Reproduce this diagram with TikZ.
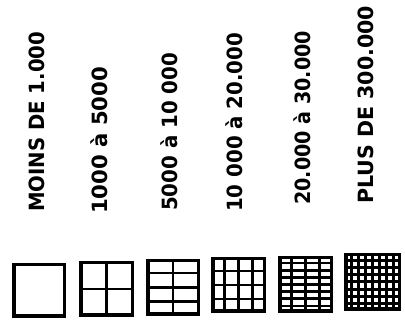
\documentclass[tikz,border=0pt]{standalone}
\usepackage{fontspec}
\setmainfont{DejaVu Sans}
\usepackage{graphicx}
\usetikzlibrary{calc}
\tikzset{
  lbl/.style={rotate=90, anchor=base west, inner sep=0pt, font=\fontsize{21}{25}\selectfont\bfseries},
  legbox/.style={draw=black, line width=3.5pt, inner sep=0pt, fill=white},
  gridln/.style={draw=black, line width=#1},
}
\newcommand\gridbox[4]{%
  \pgfmathtruncatemacro\nc{#2-1}%
  \pgfmathtruncatemacro\nr{#3-1}%
  \foreach \k in {1,...,\nc}{%
    \pgfmathsetmacro\f{\k/#2}%
    \draw[gridln=#4] ($(#1.south west)!\f!(#1.south east)$) -- ($(#1.north west)!\f!(#1.north east)$);
  }%
  \foreach \k in {1,...,\nr}{%
    \pgfmathsetmacro\f{\k/#3}%
    \draw[gridln=#4] ($(#1.south west)!\f!(#1.north west)$) -- ($(#1.south east)!\f!(#1.north east)$);
  }%
}
\begin{document}
\begin{tikzpicture}[x=1pt,y=1pt]
\useasboundingbox[fill=white] (0,0) rectangle (405,326);
% labels
\node[lbl] (t1) at (44,114) {\resizebox{180pt}{\height}{MOINS DE 1.000}};
\node[lbl] (t2) at (107,112) {\resizebox{147pt}{\height}{1000 à 5000}};
\node[lbl] (t3) at (177,115) {\resizebox{158pt}{\height}{5000 à 10 000}};
\node[lbl] (t4) at (242,114) {\resizebox{179pt}{\height}{10 000 à 20.000}};
\node[lbl] (t5) at (310,121) {\resizebox{174pt}{\height}{20.000 à 30.000}};
\node[lbl] (t6) at (373,122) {\resizebox{198pt}{\height}{PLUS DE 300.000}};
% boxes
\node[legbox, minimum width=50.5pt, minimum height=51.5pt] (b1) at (39,35.5) {};
\node[legbox, minimum width=51.5pt, minimum height=52.5pt] (b2) at (106.5,37) {};
\node[legbox, minimum width=50.5pt, minimum height=53.5pt] (b3) at (173,38.5) {};
\node[legbox, minimum width=51.5pt, minimum height=52.5pt] (b4) at (238.5,41) {};
\node[legbox, minimum width=51.5pt, minimum height=53.5pt] (b5) at (305.5,41.5) {};
\node[legbox, minimum width=53.5pt, minimum height=54.5pt] (b6) at (372.5,44) {};
\gridbox{b2}{2}{2}{2.5pt}
\gridbox{b3}{2}{4}{2.5pt}
\gridbox{b4}{4}{4}{2.8pt}
\gridbox{b5}{4}{8}{2.6pt}
\gridbox{b6}{8}{8}{3pt}
\end{tikzpicture}
\end{document}
